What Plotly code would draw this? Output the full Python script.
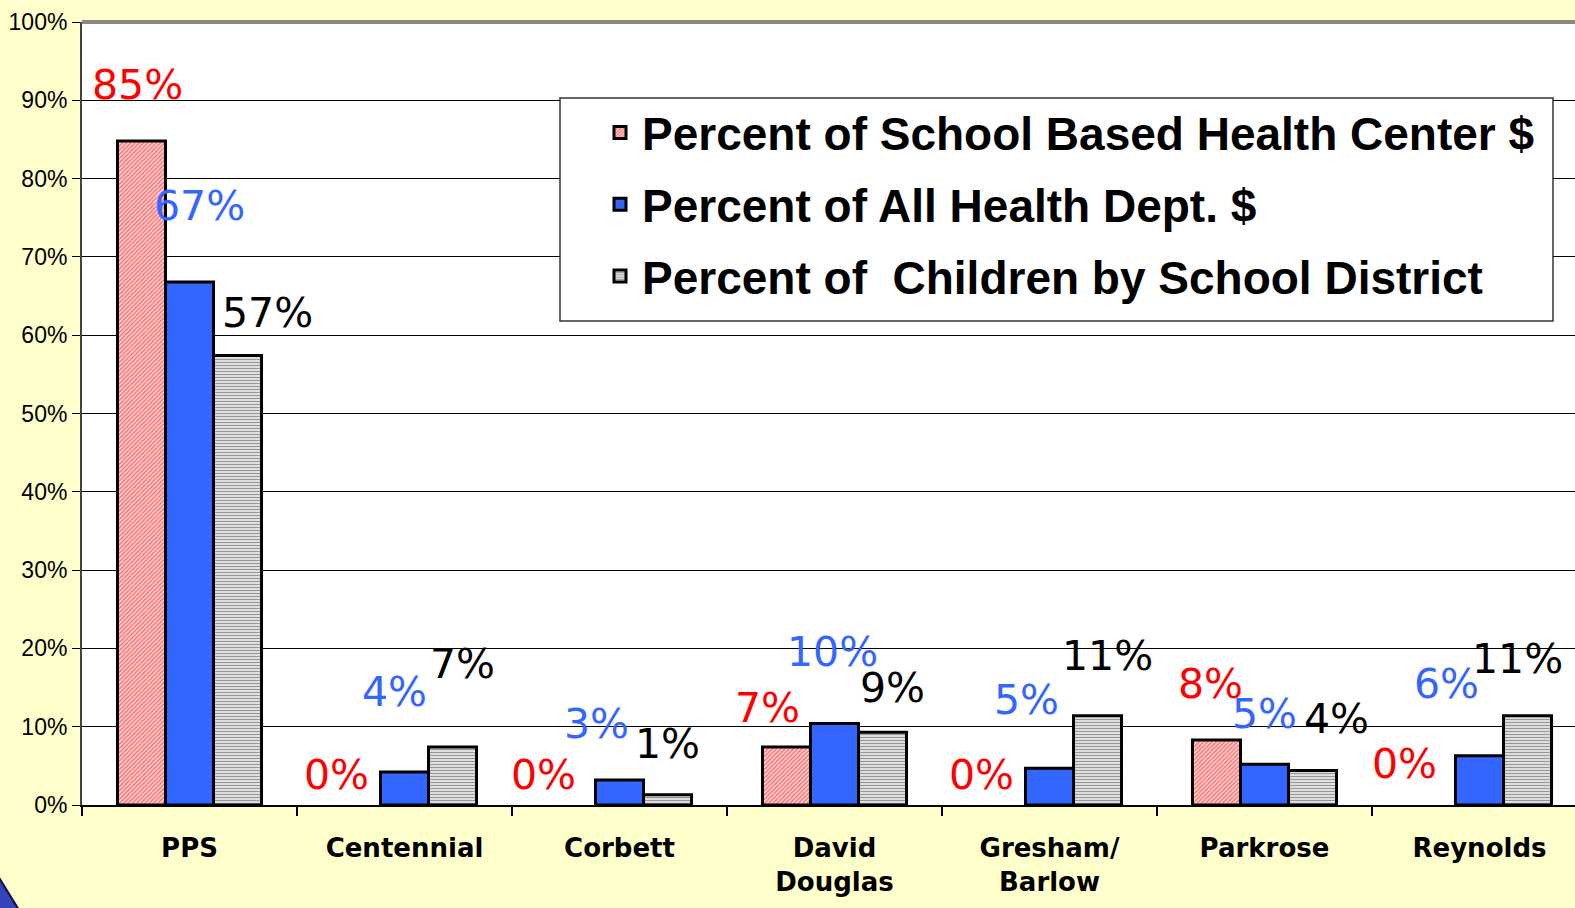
import plotly.graph_objects as go

# ---- data ----
categories = ["PPS", "Centennial", "Corbett", "David<br>Douglas", "Gresham/<br>Barlow", "Parkrose", "Reynolds"]
sbhc_pct = [84.8, 0, 0, 7.4, 0, 8.3, 0]
health_dept_pct = [66.8, 4.2, 3.2, 10.4, 4.7, 5.2, 6.3]
children_pct = [57.4, 7.4, 1.3, 9.3, 11.4, 4.4, 11.4]
series_names = [
    "Percent of School Based Health Center $",
    "Percent of All Health Dept. $",
    "Percent of  Children by School District",
]
y_ticks = list(range(0, 101, 10))
y_tick_text = [f"{v}%" for v in y_ticks]

# ---- styling ----
label_colors = ["#FF0000", "#3366FF", "#000000"]
# label offsets (pixels) from the bar top, per series, per category
label_shift = [
    [(-52, 56), (-68, 30), (-76, 30), (-67, 39), (-68, 30), (-54, 56), (-75, 41)],
    [(10, 76), (-10, 80), (-23, 56), (-2, 72), (-23, 68), (0, 50), (-33, 72)],
    [(78, 43), (58, 83), (48, 51), (58, 44), (58, 60), (72, 52), (38, 57)],
]

W, H = 1575, 908
L, T, B = 82, 22, 103
plot_w = W - L
px_per_cat = 215.0

series = [sbhc_pct, health_dept_pct, children_pct]
patterns = [
    dict(shape="/", fgcolor="#FF0000", bgcolor="#FFFFFF", size=3, solidity=0.7),
    None,
    dict(shape="-", fgcolor="#303030", bgcolor="#FFFFFF", size=3, solidity=0.55),
]
fills = ["#FFFFFF", "#3366FF", "#FFFFFF"]

fig = go.Figure()
for i, (name, vals) in enumerate(zip(series_names, series)):
    marker = dict(color=fills[i],
                  line=dict(color="#000000", width=[3 if v > 0 else 0 for v in vals]))
    if patterns[i] is not None:
        marker["pattern"] = patterns[i]
    fig.add_trace(go.Bar(
        x=categories, y=vals, name=name, marker=marker,
        legendgroup=f"g{i}", hoverinfo="skip",
    ))

annotations = []
for i, vals in enumerate(series):
    for j, v in enumerate(vals):
        xs, ys = label_shift[i][j]
        annotations.append(dict(
            x=categories[j], y=v, xref="x", yref="y", text=f"{round(v)}%",
            showarrow=False, xanchor="center", yanchor="middle",
            xshift=xs, yshift=ys,
            font=dict(family="DejaVu Sans", size=41, color=label_colors[i]),
        ))

def px_x(p):
    return (p - L) / plot_w

def px_y(p):
    return (H - B - p) / (H - B - T)

shapes = [
    # legend box
    dict(type="rect", xref="paper", yref="paper", x0=px_x(560), x1=px_x(1553), y0=px_y(321), y1=px_y(98),
         fillcolor="#FFFFFF", line=dict(color="#333333", width=1.5), layer="above"),
    # top border of plot area
    dict(type="line", xref="paper", yref="paper", x0=0, x1=1.01, y0=1, y1=1,
         line=dict(color="#888888", width=4), layer="above"),
    # decorative corner
    dict(type="path", xref="paper", yref="paper",
         path=f"M {px_x(-2)} {px_y(876)} L {px_x(19)} {px_y(910)} L {px_x(-2)} {px_y(910)} Z",
         fillcolor="#3344BB", line=dict(color="#111144", width=2), layer="above"),
]

n_vis = plot_w / px_per_cat
fig.update_layout(
    width=W, height=H,
    margin=dict(l=L, r=0, t=T, b=B, pad=0),
    paper_bgcolor="#FFFFCC",
    plot_bgcolor="#FFFFFF",
    barmode="group", bargap=0.33, bargroupgap=0,
    showlegend=True,
    legend=dict(
        x=px_x(598), y=px_y(96), xanchor="left", yanchor="top",
        bgcolor="rgba(0,0,0,0)", borderwidth=0,
        font=dict(family="Liberation Sans Narrow, Arial Narrow, Liberation Sans", size=46, color="#000000",
                  weight="bold"),
        traceorder="grouped", tracegroupgap=9, itemwidth=34,
    ),
    annotations=annotations,
    shapes=shapes,
    xaxis=dict(
        type="category", range=[-0.5, -0.5 + n_vis],
        showline=True, linecolor="#000000", linewidth=2,
        ticks="outside", tickson="boundaries", ticklen=9, tickcolor="#000000", tickwidth=1.5,
        tickfont=dict(family="DejaVu Sans", size=26, color="#000000", weight="bold"),
        ticklabelstandoff=19,
        showgrid=False, fixedrange=True,
    ),
    yaxis=dict(
        range=[0, 100], tickmode="array", tickvals=y_ticks, ticktext=y_tick_text,
        showline=True, linecolor="#444444", linewidth=2,
        ticks="outside", ticklen=8, tickcolor="#000000",
        tickfont=dict(family="Liberation Sans", size=23, color="#000000"),
        showgrid=True, gridcolor="#000000", gridwidth=1,
        zeroline=False, fixedrange=True,
    ),
)

fig.write_html("out.html", config={"displayModeBar": False},
               post_script="document.body.style.margin='0';document.body.style.padding='0';")
